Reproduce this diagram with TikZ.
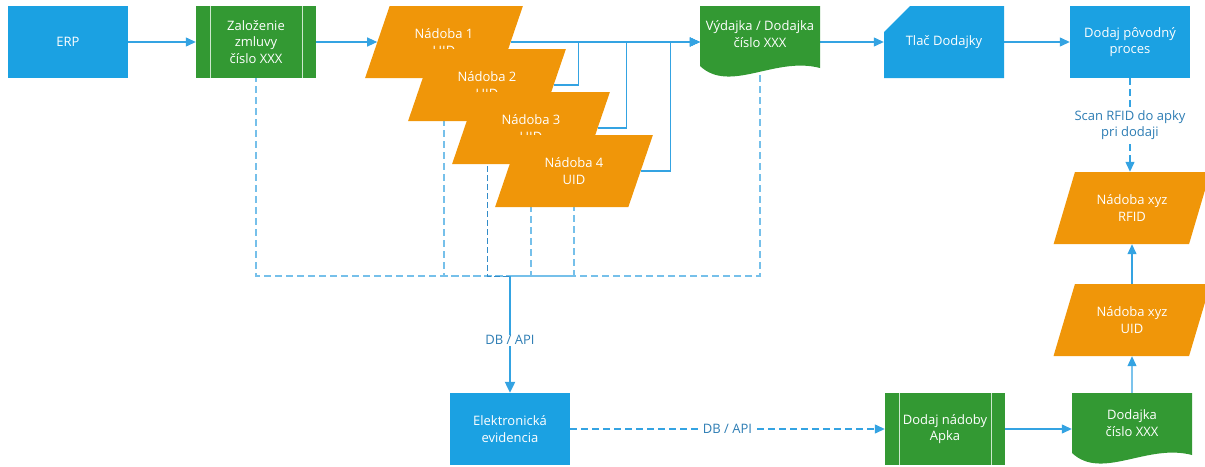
\documentclass[tikz,border=0pt]{standalone}
\usepackage{fontspec}
\setmainfont{Open Sans}
\usetikzlibrary{shapes.geometric,arrows.meta,backgrounds,calc}
\definecolor{mblue}{RGB}{27,161,226}
\definecolor{mgreen}{RGB}{51,153,51}
\definecolor{morange}{RGB}{240,150,9}
\definecolor{lineblue}{RGB}{52,163,226}
\definecolor{dashblue}{RGB}{118,192,234}
\definecolor{darkdash}{RGB}{50,140,200}
\definecolor{lblblue}{RGB}{45,125,180}
\definecolor{procline}{RGB}{205,232,205}
\begin{document}
\begin{tikzpicture}[x=1pt,y=-1pt,
  every node/.style={font=\fontsize{13}{16.5}\selectfont, text=white, align=center, inner sep=2pt},
  box/.style={draw=none, fill=mblue, minimum width=120pt, minimum height=72pt},
  proc/.style={draw=none, fill=mgreen, minimum width=120pt, minimum height=72pt,
    path picture={
      \draw[procline, line width=1pt] ([xshift=14pt]path picture bounding box.north west) -- ([xshift=14pt]path picture bounding box.south west);
      \draw[procline, line width=1pt] ([xshift=-14pt]path picture bounding box.north east) -- ([xshift=-14pt]path picture bounding box.south east);}},
  para/.style={trapezium, trapezium left angle=63.43, trapezium right angle=116.57,
    trapezium stretches=true, minimum width=158pt, minimum height=72pt, inner sep=0pt, fill=morange},
  docu/.style={minimum width=120pt, minimum height=72pt,
    path picture={\coordinate (o) at (path picture bounding box.north west);
      \fill[mgreen] (o) -- ($(o)+(120,0)$) -- ($(o)+(120,62)$)
        .. controls ($(o)+(75,50)$) and ($(o)+(30,88)$) .. ($(o)+(0,60)$) -- cycle;}},
  chamf/.style={minimum width=120pt, minimum height=72pt,
    path picture={\coordinate (o) at (path picture bounding box.north west);
      \fill[mblue] ($(o)+(26,0)$) -- ($(o)+(120,0)$) -- ($(o)+(120,72)$) -- ($(o)+(0,72)$) -- ($(o)+(0,26)$) -- cycle;}},
  arr/.style={draw=lineblue, line width=1.2pt, -{Triangle[length=10pt,width=9pt]}},
  thickarr/.style={draw=lineblue, line width=2.2pt, -{Triangle[length=11pt,width=10pt]}},
  dsh/.style={draw=dashblue, line width=1.3pt, dash pattern=on 7pt off 4pt},
  dsharr/.style={dsh, draw=lineblue, -{Triangle[length=10pt,width=9pt]}},
  dshthin/.style={draw=darkdash, line width=0.8pt, dash pattern=on 6pt off 3pt},
  lbl/.style={text=lblblue, fill=white, inner sep=1pt}
]
\useasboundingbox (0,0) rectangle (1205,466);

% nodes
\node[box] (erp) at (68,42) {ERP};
\node[proc] (zal) at (256,42) {Založenie\\zmluvy\\číslo XXX};
\node[para] (n1) at (444,42) {Nádoba 1\\UID};
\node[para] (n2) at (487,85) {Nádoba 2\\UID};
\node[para] (n3) at (531,128) {Nádoba 3\\UID};
\node[para] (n4) at (574,171) {Nádoba 4\\UID};
\node[docu, label={[yshift=8pt]center:{Výdajka / Dodajka\\číslo XXX}}] (vyd) at (760,42) {};
\node[chamf] (tlac) at (944,42) {Tlač Dodajky};
\node[box] (dpp) at (1130,42) {Dodaj pôvodný\\proces};
\node[para] (rfid) at (1132,208) {Nádoba xyz\\RFID};
\node[para] (uidn) at (1132,320) {Nádoba xyz\\UID};
\node[box] (ele) at (510,429) {Elektronická\\evidencia};
\node[proc] (dna) at (945,429) {Dodaj nádoby\\Apka};
\node[docu, label={[yshift=6pt]center:{Dodajka\\číslo XXX}}] (dod) at (1132,429) {};
\coordinate (J) at (510,276);

% connectors
\begin{scope}[on background layer]
\draw[arr] (erp.east) -- (zal.west);
\draw[arr] (zal.east) -- (n1.left side);
\draw[arr] (n1.right side) -- (vyd.west);
\draw[arr] (n2.right side) -- ++(25,0) |- (vyd.west);
\draw[arr] (n3.right side) -- ++(29,0) |- (vyd.west);
\draw[arr] (n4.right side) -- ++(30,0) |- (vyd.west);
\draw[arr] (vyd.east) -- (tlac.west);
\draw[arr] (tlac.east) -- (dpp.west);
\draw[dsh] (zal.center) |- (J);
\draw[dsh] (n1.center) |- (J);
\draw[dshthin] (n2.center) |- (J);
\draw[dsh] (n3.center) |- (J);
\draw[dsh] (n4.center) |- (J);
\draw[dsh] (vyd.center) |- (J);
\draw[thickarr] (J) -- node[lbl, pos=0.55] {DB / API} (ele.north);
\draw[dsharr] (ele.east) -- node[lbl] {DB / API} (dna.west);
\draw[arr] (dna.east) -- (dod.west);
\draw[arr] (dod.north) -- (uidn.south);
\draw[arr] (uidn.north) -- (rfid.south);
\draw[dsharr] (dpp.south) -- node[lbl] {Scan RFID do apky\\pri dodaji} (dpp.south |- rfid.north);
\end{scope}
\end{tikzpicture}
\end{document}
